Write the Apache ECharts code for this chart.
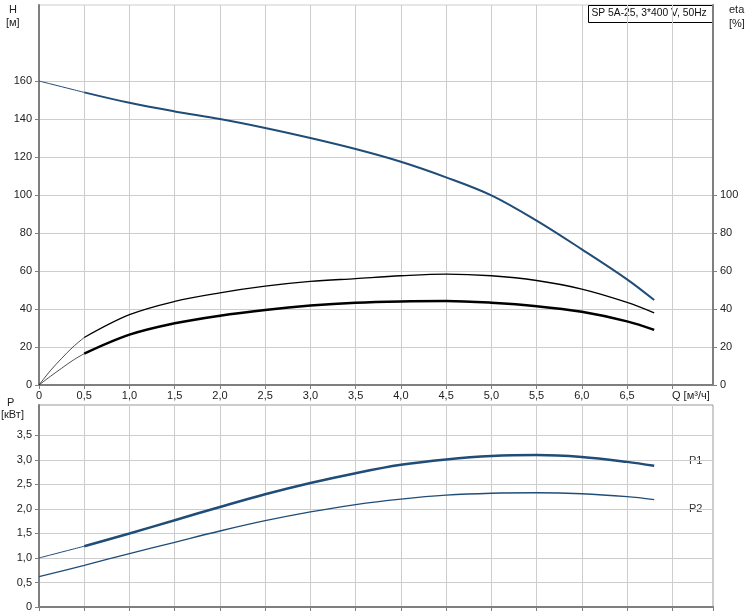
<!DOCTYPE html>
<html><head><meta charset="utf-8">
<script src="https://cdn.jsdelivr.net/npm/echarts@6/dist/echarts.min.js"></script>
<style>html,body{margin:0;padding:0;background:#fff}#c{width:750px;height:615px}</style>
</head><body><div id="c"></div>
<script>
// ---- data ----
const qStart = [0, 0.125, 0.25, 0.375, 0.5];
const hStart = [160, 158.5, 157, 155.5, 154];
const etaPumpStart = [0, 7.5, 14, 20, 25];
const etaTotalStart = [0, 4.5, 8.8, 13, 16.5];
const p1Start = [1.0, 1.06, 1.12, 1.18, 1.24];

const qMain = [0.5, 1.0, 1.5, 2.0, 2.5, 3.0, 3.5, 4.0, 4.5, 5.0, 5.5, 6.0, 6.5, 6.8];
const hMain = [154, 148.5, 144, 140, 135.3, 130, 124.2, 117.5, 109.3, 99.8, 86.5, 71.4, 55.6, 44.7];
const etaPumpMain = [25, 37, 44, 48.5, 52, 54.5, 56, 57.5, 58.4, 57.5, 55, 50.5, 43.5, 38];
const etaTotalMain = [16.5, 26.5, 32.5, 36.5, 39.5, 41.8, 43.3, 44, 44.2, 43.3, 41.5, 38.5, 33.5, 29];
const p1Main = [1.24, 1.5, 1.77, 2.04, 2.3, 2.53, 2.73, 2.9, 3.01, 3.08, 3.1, 3.06, 2.96, 2.88];
const qP2 = [0, 0.5, 1.0, 1.5, 2.0, 2.5, 3.0, 3.5, 4.0, 4.5, 5.0, 5.5, 6.0, 6.5, 6.8];
const p2 = [0.62, 0.85, 1.09, 1.32, 1.55, 1.76, 1.94, 2.09, 2.2, 2.28, 2.32, 2.33, 2.31, 2.25, 2.19];

const hTicks = [0, 20, 40, 60, 80, 100, 120, 140, 160];
const etaTicks = [0, 20, 40, 60, 80, 100];
const pTicks = [0, 0.5, 1.0, 1.5, 2.0, 2.5, 3.0, 3.5];

const titleText = 'SP 5A-25, 3*400 V, 50Hz';
const qLabel = 'Q [м³/ч]';

const zip = (a, b) => a.map((v, i) => [v, b[i]]);
const comma = v => v === 0 ? '0' : v.toFixed(1).replace('.', ',');
const FONT = 'Liberation Sans, Arial, sans-serif';
const axisGray = '#7f7f7f';
const gridGray = '#cdcdcd';
const blue = '#1f4d78';

const chart = echarts.init(document.getElementById('c'));
const lbl = {color: '#222', fontFamily: FONT, fontSize: 11};

function line(xi, yi, data, color, width) {
  return {type: 'line', xAxisIndex: xi, yAxisIndex: yi, data, smooth: 0.35, symbol: 'none',
    lineStyle: {color, width}, silent: true, animation: false, z: 5};
}

chart.setOption({
  animation: false,
  grid: [
    {left: 39, right: 37, top: 5, height: 380, show: true, borderColor: gridGray, borderWidth: 1},
    {left: 39, right: 37, top: 405, height: 202, show: true, borderColor: '#999', borderWidth: 1}
  ],
  xAxis: [
    {type: 'value', gridIndex: 0, min: 0, max: 7.45, interval: 0.5,
      axisLine: {lineStyle: {color: axisGray, width: 2}},
      axisTick: {show: true, length: 4, lineStyle: {color: axisGray}},
      axisLabel: Object.assign({}, lbl, {margin: 5, showMaxLabel: false,
        formatter: v => v >= 7 ? '' : comma(v)}),
      splitLine: {show: true, lineStyle: {color: gridGray, width: 1}}},
    {type: 'value', gridIndex: 1, min: 0, max: 7.45, interval: 0.5,
      axisLine: {lineStyle: {color: axisGray, width: 2}},
      axisTick: {show: true, length: 4, lineStyle: {color: axisGray}},
      axisLabel: {show: false},
      splitLine: {show: true, lineStyle: {color: gridGray, width: 1}}}
  ],
  yAxis: [
    {type: 'value', gridIndex: 0, min: 0, max: 200, interval: 20, position: 'left',
      axisLine: {show: true, lineStyle: {color: axisGray, width: 2}},
      axisTick: {show: true, length: 4, customValues: hTicks, lineStyle: {color: axisGray}},
      axisLabel: Object.assign({}, lbl, {margin: 7, customValues: hTicks, formatter: v => String(v)}),
      splitLine: {show: true, lineStyle: {color: gridGray, width: 1}}},
    {type: 'value', gridIndex: 0, min: 0, max: 200, interval: 20, position: 'right',
      axisLine: {show: true, lineStyle: {color: axisGray, width: 2}},
      axisTick: {show: true, length: 4, customValues: etaTicks, lineStyle: {color: axisGray}},
      axisLabel: Object.assign({}, lbl, {margin: 7, customValues: etaTicks, formatter: v => String(v)}),
      splitLine: {show: false}},
    {type: 'value', gridIndex: 1, min: 0, max: 4.12, interval: 0.5, position: 'left',
      axisLine: {show: true, lineStyle: {color: axisGray, width: 2}},
      axisTick: {show: true, length: 4, customValues: pTicks, lineStyle: {color: axisGray}},
      axisLabel: Object.assign({}, lbl, {margin: 7, customValues: pTicks, formatter: v => comma(v)}),
      splitLine: {show: true, lineStyle: {color: gridGray, width: 1}}}
  ],
  series: [
    line(0, 0, zip(qStart, hStart), blue, 1),
    line(0, 0, zip(qMain, hMain), blue, 2),
    line(0, 1, zip(qStart, etaPumpStart), '#000', 0.7),
    line(0, 1, zip(qMain, etaPumpMain), '#000', 1.3),
    line(0, 1, zip(qStart, etaTotalStart), '#000', 0.7),
    line(0, 1, zip(qMain, etaTotalMain), '#000', 2.5),
    line(1, 2, zip(qStart, p1Start), blue, 1),
    line(1, 2, zip(qMain, p1Main), blue, 2.5),
    line(1, 2, zip(qP2, p2), blue, 1.3)
  ],
  graphic: [
    {type: 'text', left: 9, top: 4, style: {text: 'H', font: '11px ' + FONT, fill: '#222'}},
    {type: 'text', left: 6, top: 17, style: {text: '[м]', font: '11px ' + FONT, fill: '#222'}},
    {type: 'text', left: 729, top: 4, style: {text: 'eta', font: '11px ' + FONT, fill: '#222'}},
    {type: 'text', left: 729, top: 18, style: {text: '[%]', font: '11px ' + FONT, fill: '#222'}},
    {type: 'text', left: 7, top: 397, style: {text: 'P', font: '11px ' + FONT, fill: '#222'}},
    {type: 'text', left: 1, top: 409, style: {text: '[кВт]', font: '11px ' + FONT, fill: '#222'}},
    {type: 'text', left: 672, top: 390, style: {text: qLabel, font: '11px ' + FONT, fill: '#222'}},
    {type: 'text', left: 689, top: 455, style: {text: 'P1', font: '11px ' + FONT, fill: '#333'}},
    {type: 'text', left: 689, top: 503, style: {text: 'P2', font: '11px ' + FONT, fill: '#333'}},
    {type: 'group', right: 37, top: 5, children: [
      {type: 'rect', shape: {x: 0, y: 0, width: 124, height: 17}, style: {fill: '#fff', stroke: '#000', lineWidth: 1}},
      {type: 'text', left: 3, top: 3, style: {text: titleText, font: '10.3px ' + FONT, fill: '#111'}}
    ]}
  ]
});
</script></body></html>
